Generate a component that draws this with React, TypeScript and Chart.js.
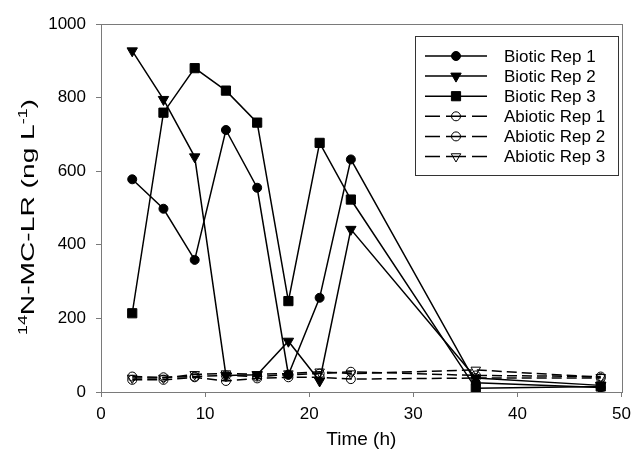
import React, { useEffect, useRef } from "react";
import { Chart, registerables } from "chart.js";

Chart.register(...registerables);

const TIMES = [3, 6, 9, 12, 15, 18, 21, 24, 36, 48];
const BIOTIC_REP1 = [578, 498, 359, 712, 555, 47, 256, 632, 25, 12];
const BIOTIC_REP2 = [927, 795, 639, 45, 47, 138, 30, 442, 38, 18];
const BIOTIC_REP3 = [214, 759, 880, 819, 732, 247, 677, 523, 10, 15];
const ABIOTIC_REP1 = [33, 33, 40, 30, 37, 40, 40, 35, 38, 38];
const ABIOTIC_REP2 = [42, 40, 42, 45, 42, 47, 50, 55, 45, 42];
const ABIOTIC_REP3 = [38, 38, 48, 50, 48, 50, 55, 50, 60, 40];

const SERIES_NAMES = [
  "Biotic Rep 1",
  "Biotic Rep 2",
  "Biotic Rep 3",
  "Abiotic Rep 1",
  "Abiotic Rep 2",
  "Abiotic Rep 3",
];
const X_TITLE = "Time (h)";
// y title pieces: [text, isSuperscript]
const Y_TITLE_PARTS: [string, boolean][] = [
  ["14", true],
  ["N-MC-LR (ng L", false],
  ["-1", true],
  [")", false],
];

const FONT = "'Liberation Sans', Arial, sans-serif";
const AXIS_GRAY = "#7a7a7a";

type Marker = { style: string; rotation: number; radius: number; filled: boolean; dashed: boolean };
const MARKERS: Marker[] = [
  { style: "circle", rotation: 0, radius: 4.5, filled: true, dashed: false },
  { style: "triangle", rotation: 180, radius: 6, filled: true, dashed: false },
  { style: "rect", rotation: 0, radius: 6.5, filled: true, dashed: false },
  { style: "circle", rotation: 0, radius: 4.5, filled: false, dashed: true },
  { style: "circle", rotation: 0, radius: 4.5, filled: false, dashed: true },
  { style: "triangle", rotation: 180, radius: 5.5, filled: false, dashed: true },
];

function toPoints(vals: number[]) {
  return TIMES.map((t, i) => ({ x: t, y: vals[i] }));
}

function drawMarker(ctx: CanvasRenderingContext2D, m: Marker, x: number, y: number) {
  ctx.save();
  ctx.beginPath();
  const r = m.radius;
  if (m.style === "circle") {
    ctx.arc(x, y, r, 0, Math.PI * 2);
  } else if (m.style === "rect") {
    const s = Math.SQRT1_2 * r;
    ctx.rect(x - s, y - s, 2 * s, 2 * s);
  } else {
    let rad = (m.rotation * Math.PI) / 180;
    ctx.moveTo(x + Math.sin(rad) * r, y - Math.cos(rad) * r);
    rad += (2 * Math.PI) / 3;
    ctx.lineTo(x + Math.sin(rad) * r, y - Math.cos(rad) * r);
    rad += (2 * Math.PI) / 3;
    ctx.lineTo(x + Math.sin(rad) * r, y - Math.cos(rad) * r);
    ctx.closePath();
  }
  if (m.filled) {
    ctx.fillStyle = "#000";
    ctx.fill();
  }
  ctx.lineWidth = 1;
  ctx.strokeStyle = "#000";
  ctx.stroke();
  ctx.restore();
}

const framePlugin = {
  id: "frame",
  beforeDatasetsDraw(chart: any) {
    const { ctx, chartArea } = chart;
    ctx.save();
    ctx.strokeStyle = AXIS_GRAY;
    ctx.lineWidth = 1;
    ctx.strokeRect(
      Math.round(chartArea.left) + 0.5,
      Math.round(chartArea.top) + 0.5,
      Math.round(chartArea.right - chartArea.left),
      Math.round(chartArea.bottom - chartArea.top)
    );
    ctx.restore();
  },
};

const yTitlePlugin = {
  id: "yTitle",
  afterDraw(chart: any) {
    const { ctx } = chart;
    const mainFont = `19px ${FONT}`;
    const supFont = `12px ${FONT}`;
    ctx.save();
    let total = 0;
    const widths = Y_TITLE_PARTS.map(([t, sup]) => {
      ctx.font = sup ? supFont : mainFont;
      const w = ctx.measureText(t).width;
      total += w;
      return w;
    });
    const targetLen = 236;
    const sx = targetLen / total;
    ctx.translate(27, 217);
    ctx.rotate(-Math.PI / 2);
    ctx.scale(sx, 1);
    ctx.fillStyle = "#000";
    ctx.textAlign = "left";
    ctx.textBaseline = "alphabetic";
    let x = -total / 2;
    const baseY = 7;
    Y_TITLE_PARTS.forEach(([t, sup], i) => {
      ctx.font = sup ? supFont : mainFont;
      ctx.fillText(t, x, sup ? baseY - 7 : baseY);
      x += widths[i];
    });
    ctx.restore();
  },
};

const legendPlugin = {
  id: "customLegend",
  afterDraw(chart: any) {
    const { ctx } = chart;
    const boxL = 415.5, boxT = 36.5, boxR = 618.5, boxB = 175.5;
    ctx.save();
    ctx.fillStyle = "#fff";
    ctx.fillRect(boxL, boxT, boxR - boxL, boxB - boxT);
    ctx.strokeStyle = "#333";
    ctx.lineWidth = 1;
    ctx.strokeRect(boxL, boxT, boxR - boxL, boxB - boxT);
    const rowY0 = 56, rowStep = 20.1;
    SERIES_NAMES.forEach((name, i) => {
      const y = rowY0 + i * rowStep;
      const m = MARKERS[i];
      ctx.strokeStyle = "#000";
      ctx.lineWidth = 1.5;
      ctx.beginPath();
      if (m.dashed) {
        [[425, 440], [446, 466], [472, 487]].forEach(([a, b]) => {
          ctx.moveTo(a, y);
          ctx.lineTo(b, y);
        });
      } else {
        ctx.moveTo(425, y);
        ctx.lineTo(487, y);
      }
      ctx.stroke();
      drawMarker(ctx, m, 456, y);
      ctx.fillStyle = "#000";
      ctx.font = `17px ${FONT}`;
      ctx.textBaseline = "middle";
      ctx.textAlign = "left";
      ctx.fillText(name, 504, y + 1);
    });
    ctx.restore();
  },
};

export default function App() {
  const ref = useRef<HTMLCanvasElement | null>(null);

  useEffect(() => {
    if (!ref.current) return;
    const seriesVals = [BIOTIC_REP1, BIOTIC_REP2, BIOTIC_REP3, ABIOTIC_REP1, ABIOTIC_REP2, ABIOTIC_REP3];
    const datasets = seriesVals.map((vals, i) => {
      const m = MARKERS[i];
      return {
        label: SERIES_NAMES[i],
        data: toPoints(vals),
        borderColor: "#000",
        borderWidth: 1.5,
        borderDash: m.dashed ? [10, 5] : [],
        backgroundColor: m.filled ? "#000" : "rgba(0,0,0,0)",
        pointStyle: m.style,
        pointRotation: m.rotation,
        pointRadius: m.radius,
        pointBorderWidth: 1,
        pointBorderColor: "#000",
        pointBackgroundColor: m.filled ? "#000" : "rgba(0,0,0,0)",
        tension: 0,
        fill: false,
      };
    });

    const chart = new Chart(ref.current, {
      type: "line",
      data: { datasets },
      options: {
        responsive: false,
        animation: false,
        devicePixelRatio: 1,
        layout: { padding: { top: 24, right: 10, left: 41, bottom: 0 } },
        plugins: {
          legend: { display: false },
          tooltip: { enabled: false },
        },
        scales: {
          x: {
            type: "linear",
            min: 0,
            max: 50,
            ticks: {
              stepSize: 10,
              color: "#000",
              font: { family: FONT, size: 17 },
              padding: 7,
              maxRotation: 0,
              callback: (v: any) => String(v),
            },
            grid: { drawOnChartArea: false, drawTicks: true, tickLength: 5, color: AXIS_GRAY },
            border: { display: true, color: AXIS_GRAY },
            title: {
              display: true,
              text: X_TITLE,
              color: "#000",
              font: { family: FONT, size: 19 },
              padding: { top: 0, bottom: 9 },
            },
            afterFit: (s: any) => {
              s.height = 68;
            },
          },
          y: {
            type: "linear",
            min: 0,
            max: 1000,
            ticks: {
              stepSize: 200,
              color: "#000",
              font: { family: FONT, size: 17 },
              padding: 10,
              callback: (v: any) => String(v),
            },
            grid: { drawOnChartArea: false, drawTicks: true, tickLength: 5, color: AXIS_GRAY },
            border: { display: true, color: AXIS_GRAY },
            afterFit: (s: any) => {
              s.width = 60;
            },
          },
        },
      } as any,
      plugins: [framePlugin, legendPlugin, yTitlePlugin],
    });
    return () => chart.destroy();
  }, []);

  return (
    <div style={{ position: "absolute", left: 0, top: 0, width: 638, height: 460, background: "#fff" }}>
      <canvas ref={ref} width={638} height={460} style={{ width: 638, height: 460, display: "block" }} />
    </div>
  );
}
